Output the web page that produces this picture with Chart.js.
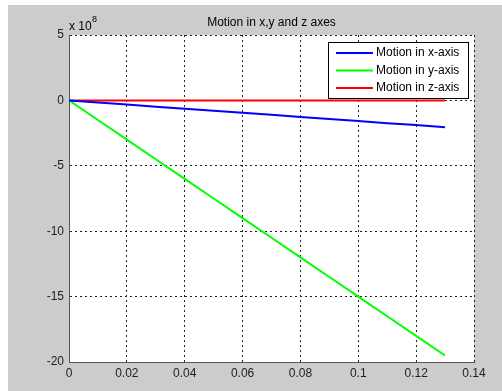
<!DOCTYPE html>
<html>
<head>
<meta charset="utf-8">
<script src="https://cdn.jsdelivr.net/npm/chart.js@4.4.0/dist/chart.umd.min.js"></script>
<style>
    body { margin: 0; background: #ffffff; }
    #wrap { position: absolute; left: 8px; top: 5px; width: 494px; height: 386px; background: #cccccc; }
</style>
</head>
<body>
<div id="wrap"><canvas id="motionChart"></canvas></div>
<script>
// time (s) and displacement, in units of 1e8
const time = [0, 0.01, 0.02, 0.03, 0.04, 0.05, 0.06, 0.07, 0.08, 0.09, 0.1, 0.11, 0.12, 0.13];
const motionX = [0, -0.16, -0.32, -0.48, -0.63, -0.79, -0.95, -1.1, -1.26, -1.42, -1.58, -1.74, -1.89, -2.05];
const motionY = [0, -1.5, -3, -4.5, -6, -7.5, -9, -10.5, -12, -13.5, -15, -16.5, -18, -19.5];
const motionZ = [0, 0, 0, 0, 0, 0, 0, 0, 0, 0, 0, 0, 0, 0];
const xTicks = [0, 0.02, 0.04, 0.06, 0.08, 0.1, 0.12, 0.14];
const yTicks = [5, 0, -5, -10, -15, -20];

const titleText = 'Motion in x,y and z axes';
const font = '"Liberation Sans", Arial, sans-serif';

function toPoints(ys) {
    return time.map((t, i) => ({ x: t, y: ys[i] }));
}

// white plot area, title, exponent label and boxed legend like matlab
const matlabLook = {
    id: 'matlabLook',
    beforeDraw(chart) {
        const { ctx, chartArea: a } = chart;
        ctx.save();
        ctx.fillStyle = '#ffffff';
        ctx.fillRect(a.left, a.top, a.right - a.left, a.bottom - a.top);
        ctx.restore();
    },
    afterDraw(chart) {
        const { ctx, chartArea: a } = chart;
        ctx.save();
        ctx.fillStyle = '#000000';
        ctx.font = '12px ' + font;
        ctx.textAlign = 'center';
        ctx.textBaseline = 'alphabetic';
        ctx.fillText(titleText, (a.left + a.right) / 2, a.top - 9);

        ctx.textAlign = 'left';
        ctx.fillText('x 10', a.left + 0, a.top - 5);
        ctx.font = '9px ' + font;
        ctx.fillText('8', a.left + 23, a.top - 13);

        // legend
        const w = 140, h = 56;
        const lx = a.right - 6 - w, ly = a.top + 7;
        ctx.fillStyle = '#ffffff';
        ctx.fillRect(lx, ly, w, h);
        ctx.strokeStyle = '#000000';
        ctx.lineWidth = 1;
        ctx.strokeRect(lx + 0.5, ly + 0.5, w, h);
        ctx.font = '12px ' + font;
        ctx.textBaseline = 'middle';
        chart.data.datasets.forEach((ds, i) => {
            const y = ly + 11 + i * 17.5;
            ctx.strokeStyle = ds.borderColor;
            ctx.lineWidth = 2;
            ctx.beginPath();
            ctx.moveTo(lx + 8, y);
            ctx.lineTo(lx + 45, y);
            ctx.stroke();
            ctx.fillStyle = '#000000';
            ctx.fillText(ds.label, lx + 48, y);
        });
        ctx.restore();
    }
};

const ctx = document.getElementById('motionChart').getContext('2d');
const chart = new Chart(ctx, {
    type: 'line',
    data: {
        datasets: [{
            label: 'Motion in x-axis',
            data: toPoints(motionX),
            borderColor: '#0000ff',
            borderWidth: 2,
            pointRadius: 0,
            tension: 0
        }, {
            label: 'Motion in y-axis',
            data: toPoints(motionY),
            borderColor: '#00ff00',
            borderWidth: 2,
            pointRadius: 0,
            tension: 0
        }, {
            label: 'Motion in z-axis',
            data: toPoints(motionZ),
            borderColor: '#ff0000',
            borderWidth: 2,
            pointRadius: 0,
            tension: 0
        }]
    },
    options: {
        responsive: true,
        maintainAspectRatio: false,
        animation: false,
        layout: { padding: { left: 0, top: 30, right: 28, bottom: 0 } },
        scales: {
            x: {
                type: 'linear',
                min: 0,
                max: 0.14,
                afterFit: s => { s.height = 29; },
                afterBuildTicks: s => { s.ticks = xTicks.map(v => ({ value: v })); },
                grid: { color: '#222222', lineWidth: 1, drawTicks: false },
                border: { color: '#555555', width: 1, dash: [2, 3] },
                ticks: {
                    color: '#222222',
                    padding: 4,
                    font: { family: font, size: 12 },
                    callback: v => String(v)
                }
            },
            y: {
                min: -20,
                max: 5,
                afterFit: s => { s.width = 61; },
                afterBuildTicks: s => { s.ticks = yTicks.map(v => ({ value: v })); },
                grid: { color: '#222222', lineWidth: 1, drawTicks: false },
                border: { color: '#555555', width: 1, dash: [2, 3] },
                ticks: {
                    color: '#222222',
                    padding: 5,
                    font: { family: font, size: 12 },
                    callback: v => String(v)
                }
            }
        },
        plugins: {
            legend: { display: false },
            tooltip: { enabled: false }
        }
    },
    plugins: [matlabLook]
});
</script>
</body>
</html>
